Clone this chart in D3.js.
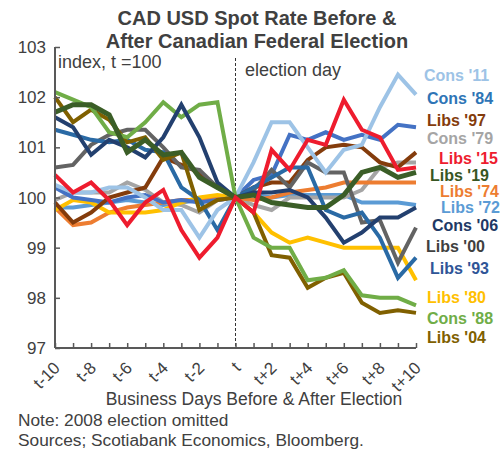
<!DOCTYPE html>
<html>
<head>
<meta charset="utf-8">
<script src="https://cdn.jsdelivr.net/npm/d3@7/dist/d3.min.js"></script>
<style>
  body { margin: 0; background: #fff; }
  svg { font-family: "Liberation Sans", Arial, sans-serif; }
</style>
</head>
<body>
<svg id="svg" width="504" height="449"></svg>
<script>
// business days around election day, t = 100
var days = ["t-10","t-9","t-8","t-7","t-6","t-5","t-4","t-3","t-2","t-1","t",
            "t+1","t+2","t+3","t+4","t+5","t+6","t+7","t+8","t+9","t+10"];
var tickLabels = ["t-10","t-8","t-6","t-4","t-2","t","t+2","t+4","t+6","t+8","t+10"];
var yTicks = [97, 98, 99, 100, 101, 102, 103];

var cons11 = [100.25,100.1,100.1,100.2,100.2,100.0,99.75,99.75,99.2,99.75,100,100.7,101.5,101.5,101.0,100.5,100.95,101.05,101.8,102.45,102.05];
var cons84 = [100.2,100.0,99.95,99.9,100.0,100.05,99.9,99.95,99.9,99.95,100,100.35,100.45,101.25,101.15,101.3,101.15,101.25,101.15,101.45,101.4];
var libs97 = [99.9,99.5,99.7,100.0,100.1,100.2,100.8,100.65,100.5,100.2,100,100.2,100.3,100.3,100.75,101.0,101.05,101.0,100.7,100.6,100.9];
var cons79 = [99.95,100.1,100.1,100.1,100.3,100.15,99.9,99.85,99.7,99.95,100,99.85,99.75,100.0,100.0,100.0,100.0,100.15,100.6,100.7,100.7];
var libs15 = [100.45,100.1,100.3,99.95,99.45,99.9,100.15,99.35,98.8,99.2,100,99.7,100.95,100.55,101.15,101.05,101.95,101.35,101.2,100.55,100.6];
var libs19 = [101.7,101.85,101.85,101.65,100.9,101.15,100.85,100.9,100.4,100.2,100,100.05,99.9,99.85,99.8,99.8,100.05,100.5,100.6,100.4,100.5];
var libs74 = [99.8,99.45,99.5,99.7,99.8,99.85,99.9,99.95,99.95,100,100,99.95,100,100.1,100.15,100.2,100.3,100.3,100.3,100.3,100.3];
var libs72 = [99.8,99.8,99.85,99.9,99.95,99.9,99.85,99.9,99.95,100,100,100.05,100,100.05,100.05,100.05,100.05,99.9,99.9,99.9,99.85];
var cons06 = [101.6,101.4,100.85,101.15,101.0,100.8,101.2,101.85,101.2,100.3,100,100.1,100.1,100.15,100.0,99.6,99.1,99.3,99.6,99.6,99.8];
var libs00 = [100.6,100.65,101.05,101.25,101.35,101.35,101.0,100.6,100.55,100.2,100,100.15,100.55,100.2,100.7,100.5,100.5,99.5,99.55,98.7,99.4];
var libs93 = [101.35,101.25,101.15,101.1,101.15,100.95,100.9,100.2,99.95,99.35,100,100.2,100.4,100.6,100.6,99.75,99.6,99.7,99.2,98.4,98.8];
var libs80 = [99.75,99.95,99.9,99.7,99.7,99.7,99.75,99.9,100,100.05,100,99.7,99.3,99.1,99.2,99.1,99.0,99.0,99.0,99.0,98.35];
var cons88 = [102.1,101.95,101.8,101.3,101.2,101.5,101.9,101.6,101.85,101.9,100,99.2,99.0,99.0,98.35,98.4,98.55,98.05,98.0,98.0,97.85];
var libs04 = [102.0,101.5,101.75,101.55,101.1,101.2,100.75,100.9,99.75,99.95,100,99.7,98.85,98.8,98.2,98.4,98.5,97.9,97.7,97.75,97.7];

// draw order (bottom to top)
var series = [
  { name: "Libs '72", values: libs72, color: "#5B9BD5" },
  { name: "Cons '79", values: cons79, color: "#A5A5A5" },
  { name: "Libs '74", values: libs74, color: "#ED7D31" },
  { name: "Libs '80", values: libs80, color: "#FFC000" },
  { name: "Cons '84", values: cons84, color: "#4472C4" },
  { name: "Libs '97", values: libs97, color: "#843C0C" },
  { name: "Libs '00", values: libs00, color: "#636363" },
  { name: "Libs '93", values: libs93, color: "#2A6AA5" },
  { name: "Cons '11", values: cons11, color: "#9DC3E6" },
  { name: "Libs '04", values: libs04, color: "#806000" },
  { name: "Cons '88", values: cons88, color: "#70AD47" },
  { name: "Cons '06", values: cons06, color: "#23406F" },
  { name: "Libs '19", values: libs19, color: "#3B5E27" },
  { name: "Libs '15", values: libs15, color: "#EE1C2E" }
];

// end labels: text, x, y (layout only)
var endLabels = [
  ["Cons '11", 424, 75, "#9DC3E6"],
  ["Cons '84", 427, 98, "#2E75B6"],
  ["Libs '97", 427, 120, "#843C0C"],
  ["Cons '79", 427, 138, "#A5A5A5"],
  ["Libs '15", 439, 158, "#EE1C2E"],
  ["Libs '19", 430, 175, "#375623"],
  ["Libs '74", 440, 191, "#ED7D31"],
  ["Libs '72", 441, 207, "#5B9BD5"],
  ["Cons '06", 432, 225, "#203864"],
  ["Libs '00", 426, 246, "#404040"],
  ["Libs '93", 430, 268, "#2F5597"],
  ["Libs '80", 427, 297, "#FFC000"],
  ["Cons '88", 427, 318, "#70AD47"],
  ["Libs '04", 427, 337, "#7F6000"]
];

var svg = d3.select("#svg");
var plotLeft = 55, plotRight = 416, plotTop = 47, plotBottom = 348;

var x = d3.scalePoint().domain(days).range([plotLeft, plotRight]);
var y = d3.scaleLinear().domain([97, 103]).range([plotBottom, plotTop]);

// title
svg.append("text").attr("x", 257).attr("y", 25).attr("text-anchor", "middle")
  .attr("font-size", 20).attr("font-weight", "bold").attr("fill", "#404040")
  .text("CAD USD Spot Rate Before &");
svg.append("text").attr("x", 257).attr("y", 48).attr("text-anchor", "middle")
  .attr("font-size", 20).attr("font-weight", "bold").attr("fill", "#404040")
  .text("After Canadian Federal Election");

// election day marker
svg.append("line").attr("x1", x("t")).attr("x2", x("t"))
  .attr("y1", 58).attr("y2", plotBottom)
  .attr("stroke", "#333").attr("stroke-width", 1).attr("stroke-dasharray", "3,2");
svg.append("text").attr("x", 245).attr("y", 76).attr("font-size", 18).attr("fill", "#404040")
  .text("election day");
svg.append("text").attr("x", 58).attr("y", 68).attr("font-size", 18).attr("fill", "#404040")
  .text("index, t =100");

// lines
var line = d3.line()
  .x(function(d, i) { return x(days[i]); })
  .y(function(d) { return y(d); });

svg.append("g").selectAll("path")
  .data(series)
  .enter().append("path")
  .attr("d", function(d) { return line(d.values); })
  .attr("fill", "none")
  .attr("stroke", function(d) { return d.color; })
  .attr("stroke-width", function(d) { return d.name == "Libs '19" ? 5 : 4; })
  .attr("stroke-linejoin", "miter");

// axes
var yAxis = svg.append("g").attr("transform", "translate(" + plotLeft + ",0)")
  .call(d3.axisRight(y).tickValues(yTicks).tickSize(5).tickFormat(""));
yAxis.select(".domain").attr("stroke", "#595959").attr("stroke-width", 2).attr("d", "M0," + plotTop + "V" + plotBottom);
yAxis.selectAll(".tick line").attr("stroke", "#595959").attr("stroke-width", 1.5);
svg.append("g").selectAll("text").data(yTicks).enter().append("text")
  .attr("x", 46).attr("y", function(d) { return y(d) + 6; })
  .attr("text-anchor", "end").attr("font-size", 17).attr("fill", "#404040")
  .text(function(d) { return d; });

var xAxis = svg.append("g").attr("transform", "translate(0," + plotBottom + ")")
  .call(d3.axisTop(x).tickSize(5).tickFormat(""));
xAxis.select(".domain").attr("stroke", "#595959").attr("stroke-width", 2).attr("d", "M" + plotLeft + ",0H" + plotRight);
xAxis.selectAll(".tick line").attr("stroke", "#595959").attr("stroke-width", 1.5);
svg.append("g").selectAll("text").data(tickLabels).enter().append("text")
  .attr("text-anchor", "end").attr("font-size", 17).attr("fill", "#404040")
  .attr("transform", function(d) { return "translate(" + (x(d) + 6) + "," + (plotBottom + 21) + ") rotate(-45)"; })
  .text(function(d) { return d; });

svg.append("text").attr("x", 254).attr("y", 405).attr("text-anchor", "middle")
  .attr("font-size", 17.5).attr("fill", "#404040")
  .text("Business Days Before & After Election");
svg.append("text").attr("x", 18).attr("y", 426).attr("font-size", 17.3).attr("fill", "#404040")
  .text("Note: 2008 election omitted");
svg.append("text").attr("x", 18).attr("y", 446).attr("font-size", 17.3).attr("fill", "#404040")
  .text("Sources; Scotiabank Economics, Bloomberg.");

// end labels
svg.append("g").selectAll("text").data(endLabels).enter().append("text")
  .attr("x", function(d) { return d[1]; })
  .attr("y", function(d) { return d[2] + 6; })
  .attr("font-size", 16).attr("font-weight", "bold")
  .attr("fill", function(d) { return d[3]; })
  .text(function(d) { return d[0]; });
</script>
</body>
</html>
